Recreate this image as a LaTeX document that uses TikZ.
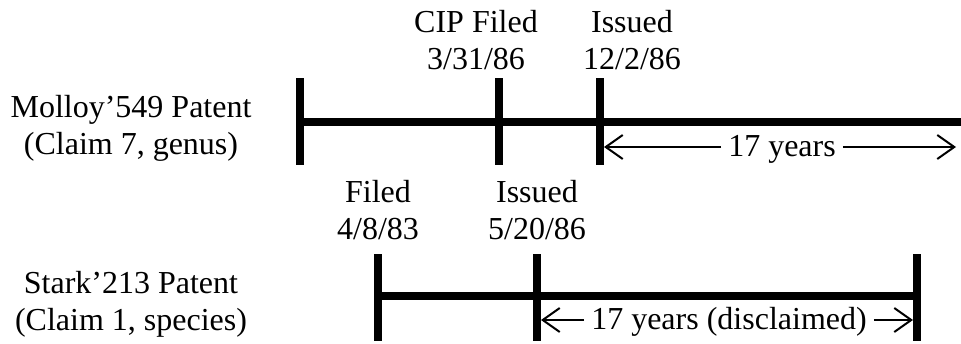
\documentclass[tikz,border=0pt]{standalone}
\usepackage{fontspec}
\setmainfont{Liberation Serif}
\usetikzlibrary{arrows.meta}

\begin{document}
\begin{tikzpicture}[
  x=1pt, y=-1pt,
  font=\fontsize{32}{37}\selectfont,
  bar/.style={line width=8pt},
  arr/.style={-{Straight Barb[length=17pt,width=24pt]}, line width=2pt},
  lbl/.style={align=center, inner sep=0pt},
  yrs/.style={anchor=base, inner xsep=7pt, inner ysep=0pt},
]
\useasboundingbox (0,0) rectangle (961,343);
% Molloy timeline
\coordinate (m0) at (300,122);
\coordinate (m1) at (499,122);
\coordinate (m2) at (600,122);
\coordinate (mEnd) at (961,122);
\draw[bar] (m0) -- (mEnd);
\foreach \c in {m0,m1,m2}
  \draw[bar] ([yshift=44pt]\c) -- ([yshift=-43pt]\c);
% Stark timeline
\coordinate (s0) at (378,296);
\coordinate (s1) at (537,296);
\coordinate (s2) at (917,296);
\draw[bar] (s0) -- (s2);
\foreach \c in {s0,s1,s2}
  \draw[bar] ([yshift=42pt]\c) -- ([yshift=-45pt]\c);

% labels
\node[lbl] (molloy) at (131,128) {Molloy'549 Patent\\(Claim 7, genus)};
\node[lbl] (stark) at (131,304) {Stark'213 Patent\\(Claim 1, species)};
\node[lbl] (cip) at (476,40) {CIP Filed\\3/31/86};
\node[lbl] (issM) at (632,40) {Issued\\12/2/86};
\node[lbl] (filS) at (378,210) {Filed\\4/8/83};
\node[lbl] (issS) at (537,210) {Issued\\5/20/86};

% 17 year spans
\coordinate (a0) at (604,147);
\coordinate (a1) at (956,147);
\node[yrs] (yrsM) at (782,156) {17 years};
\draw[arr] ([yshift=9pt]yrsM.base west) -- (a0);
\draw[arr] ([yshift=9pt]yrsM.base east) -- (a1);
\coordinate (b0) at (541,320);
\coordinate (b1) at (913,320);
\node[yrs] (yrsS) at (729,329) {17 years (disclaimed)};
\draw[arr] ([yshift=9pt]yrsS.base west) -- (b0);
\draw[arr] ([yshift=9pt]yrsS.base east) -- (b1);
\end{tikzpicture}
\end{document}
